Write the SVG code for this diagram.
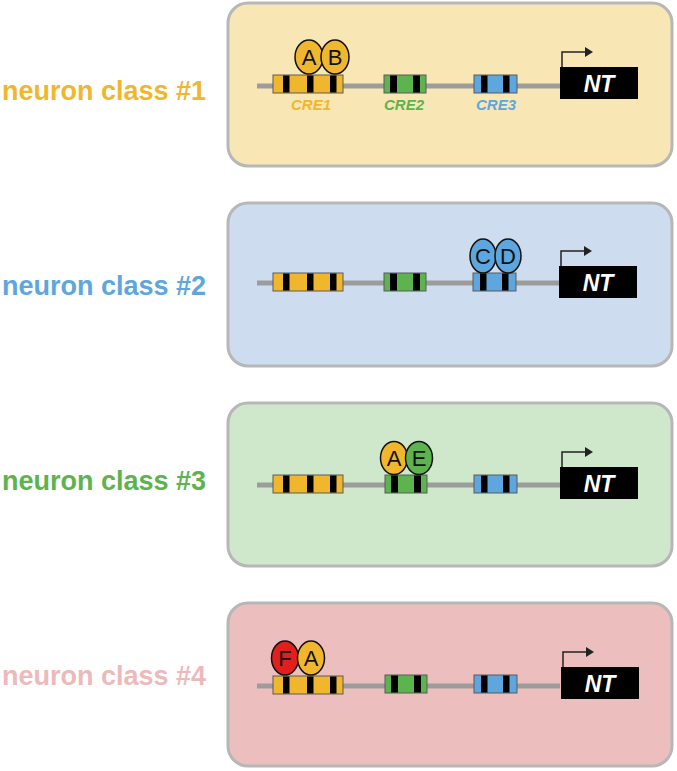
<svg xmlns="http://www.w3.org/2000/svg" xmlns:xlink="http://www.w3.org/1999/xlink" width="677" height="771" viewBox="0 0 677 771">
<style>
.panel{stroke:#b7b7b7;stroke-width:3}
.dna{stroke:#9c9c9c;stroke-width:5}
.lbl{font-family:"Liberation Sans",Arial,sans-serif;font-weight:bold;font-size:27px}
.cre{font-family:"Liberation Sans",Arial,sans-serif;font-weight:bold;font-style:italic;font-size:15px;text-anchor:middle}
.nt{font-family:"Liberation Sans",Arial,sans-serif;font-weight:bold;font-style:italic;font-size:23px;fill:#fff;text-anchor:middle}
.tf{stroke:#111;stroke-width:1.5}
.tfl{font-family:"Liberation Sans",Arial,sans-serif;font-size:22px;fill:#111;text-anchor:middle}
.box{stroke:#5a5a5a;stroke-width:1}
.bar{fill:#000}
.arr{fill:none;stroke:#222;stroke-width:1.5}
.y{fill:#f0b72e}.g{fill:#5db34e}.b{fill:#5ea6de}.r{fill:#e11f1f}
</style>
<defs>
<g id="cre1"><rect class="box y" x="0" y="0" width="70" height="18"/><rect class="bar" x="10" y="0.5" width="6.5" height="17"/><rect class="bar" x="34" y="0.5" width="6.5" height="17"/><rect class="bar" x="57" y="0.5" width="6.5" height="17"/></g>
<g id="cre2"><rect class="box g" x="0" y="0" width="42" height="18"/><rect class="bar" x="6" y="0.5" width="7" height="17"/><rect class="bar" x="29" y="0.5" width="7" height="17"/></g>
<g id="cre3"><rect class="box b" x="0" y="0" width="43" height="18"/><rect class="bar" x="7" y="0.5" width="6.5" height="17"/><rect class="bar" x="29" y="0.5" width="6.5" height="17"/></g>
<g id="prom"><rect x="0" y="0" width="78" height="32" fill="#000"/><text class="nt" x="39" y="25">NT</text><path class="arr" d="M2,0 V-15 H26"/><polygon points="25,-20 33,-15 25,-10" fill="#222"/></g>
</defs>

<g id="labels">
<text class="lbl" x="2" y="100" fill="#f0b72e">neuron class #1</text>
<text class="lbl" x="2" y="295" fill="#5ea6de">neuron class #2</text>
<text class="lbl" x="2" y="490" fill="#5db34e">neuron class #3</text>
<text class="lbl" x="2" y="685" fill="#ecbaba">neuron class #4</text>
</g>

<g id="panel1">
<rect class="panel" x="228" y="3" width="444" height="163" rx="20" fill="#f8e6b5"/>
<line class="dna" x1="257" y1="86" x2="560" y2="86"/>
<use href="#cre1" x="273" y="75"/>
<use href="#cre2" x="384" y="75"/>
<use href="#cre3" x="474" y="75"/>
<use href="#prom" x="560" y="67"/>
<text class="cre" x="311" y="110" fill="#f0b72e">CRE1</text>
<text class="cre" x="404" y="110" fill="#5db34e">CRE2</text>
<text class="cre" x="496" y="110" fill="#5ea6de">CRE3</text>
<g id="tfA1"><ellipse class="tf y" cx="309" cy="57" rx="14" ry="17"/><text class="tfl" x="309" y="65">A</text></g>
<g id="tfB1"><ellipse class="tf y" cx="335" cy="57" rx="14" ry="17"/><text class="tfl" x="335" y="65">B</text></g>
</g>

<g id="panel2">
<rect class="panel" x="228" y="203" width="444" height="163" rx="20" fill="#cddcee"/>
<line class="dna" x1="257" y1="283" x2="560" y2="283"/>
<use href="#cre1" x="273" y="273"/>
<use href="#cre2" x="384" y="273"/>
<use href="#cre3" x="473" y="273"/>
<use href="#prom" x="559" y="266"/>
<g id="tfC2"><ellipse class="tf b" cx="483" cy="256" rx="13" ry="17"/><text class="tfl" x="483" y="264">C</text></g>
<g id="tfD2"><ellipse class="tf b" cx="508" cy="256" rx="13" ry="17"/><text class="tfl" x="508" y="264">D</text></g>
</g>

<g id="panel3">
<rect class="panel" x="228" y="403" width="444" height="163" rx="20" fill="#cfe8cc"/>
<line class="dna" x1="257" y1="485" x2="560" y2="485"/>
<use href="#cre1" x="273" y="475"/>
<use href="#cre2" x="385" y="475"/>
<use href="#cre3" x="474" y="475"/>
<use href="#prom" x="560" y="467"/>
<g id="tfA3"><ellipse class="tf y" cx="394" cy="458" rx="13.5" ry="16.5"/><text class="tfl" x="394" y="466">A</text></g>
<g id="tfE3"><ellipse class="tf g" cx="419" cy="458" rx="13.5" ry="16.5"/><text class="tfl" x="419" y="466">E</text></g>
</g>

<g id="panel4">
<rect class="panel" x="228" y="603" width="444" height="163" rx="20" fill="#ecbebe"/>
<line class="dna" x1="257" y1="686" x2="560" y2="686"/>
<use href="#cre1" x="273" y="676"/>
<use href="#cre2" x="385" y="675"/>
<use href="#cre3" x="474" y="675"/>
<use href="#prom" x="561" y="667"/>
<g id="tfF4"><ellipse class="tf r" cx="285" cy="658" rx="13.5" ry="17"/><text class="tfl" x="285" y="666">F</text></g>
<g id="tfA4"><ellipse class="tf y" cx="311" cy="658" rx="13.5" ry="17"/><text class="tfl" x="311" y="666">A</text></g>
</g>
</svg>
